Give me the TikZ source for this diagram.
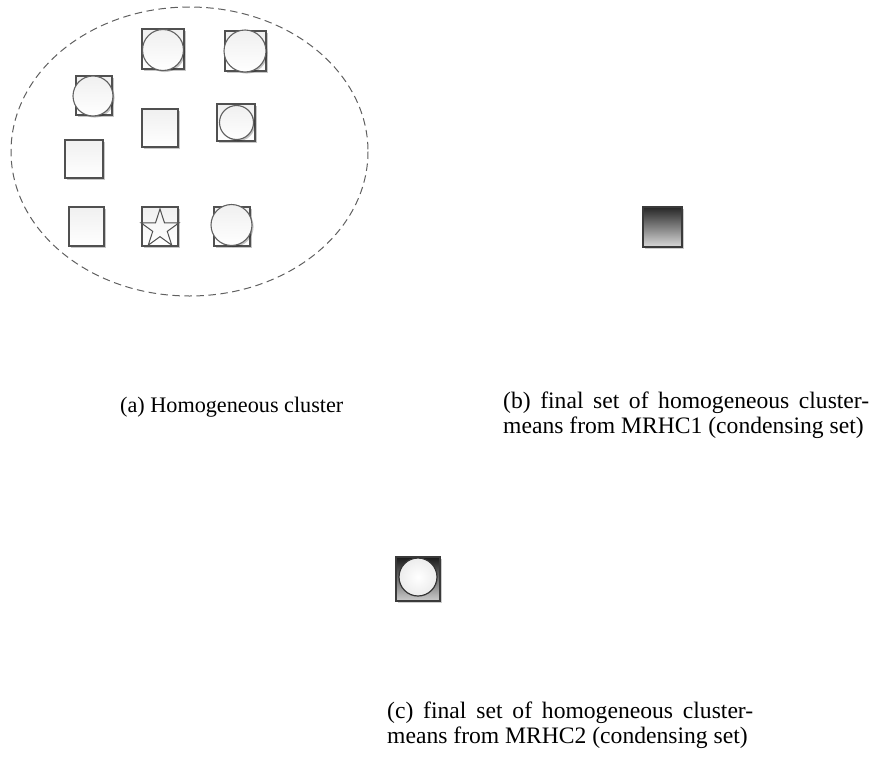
\documentclass[tikz,border=0pt]{standalone}
\usepackage{fontspec}
\setmainfont{Liberation Serif}
\usetikzlibrary{shadows}
\definecolor{edge}{HTML}{505050}
\definecolor{darkedge}{HTML}{3A3A3A}
\begin{document}
\begin{tikzpicture}[x=1pt,y=-1pt,
  lightfill/.style={top color=gray!12, bottom color=white, draw=edge, line width=1.1pt,
    inner sep=0pt, outer sep=0pt},
  softshadow/.style={drop shadow={shadow xshift=1.6pt, shadow yshift=-1.6pt, opacity=0.22, fill=black}},
  sqbox/.style={lightfill, softshadow, rectangle},
  rdot/.style={lightfill, softshadow, circle, draw=edge!90},
  starline/.style={draw=edge, line width=1pt, top color=gray!10, bottom color=white, line join=miter},
  captext/.style={font=\fontsize{23.6}{26}\selectfont, inner sep=0pt, anchor=west},
  boundary/.style={draw=gray!75!black, dash pattern=on 7.5pt off 4.5pt, line width=1pt}
]
\useasboundingbox (0,0) rectangle (885,782);

% dashed outline of the cluster
\draw[boundary] (189.5,151.5) ellipse [x radius=178.5, y radius=144.5];

% samples of the homogeneous cluster
\node[sqbox, minimum width=42, minimum height=40] (s1) at (163,49) {};
\node[rdot, minimum size=41] (c1) at (163,50) {};
\node[sqbox, minimum width=41, minimum height=40] (s2) at (245.5,51) {};
\node[rdot, minimum size=42] (c2) at (245,51) {};
\node[sqbox, minimum width=36, minimum height=39] (s3) at (94,95.5) {};
\node[rdot, minimum size=40] (c3) at (93,96) {};
\node[sqbox, minimum width=36, minimum height=38] (s4) at (160,128) {};
\node[sqbox, minimum width=38, minimum height=37] (s5) at (236,122.5) {};
\node[rdot, minimum size=34] (c5) at (236.5,122.5) {};
\node[sqbox, minimum width=38, minimum height=38] (s6) at (84,159) {};
\node[sqbox, minimum width=35, minimum height=39] (s7) at (86.5,226.5) {};
\node[sqbox, minimum width=36, minimum height=39] (s8) at (160,226.5) {};
% five-pointed star inside the square s8
\begin{scope}[shift={(160,229)}]
  \draw[starline] (-90:20) -- (-54:7.64) -- (-18:20) -- (18:7.64) -- (54:20)
    -- (90:7.64) -- (126:20) -- (162:7.64) -- (198:20) -- (234:7.64) -- cycle;
\end{scope}
\node[sqbox, minimum width=36, minimum height=39] (s9) at (232,226.5) {};
\node[rdot, minimum size=41] (c9) at (231.5,225) {};

% condensing set from MRHC1
\node[rectangle, minimum width=39, minimum height=40, inner sep=0pt,
      top color=black!85, bottom color=gray!30, draw=darkedge, line width=1.8pt,
      drop shadow={shadow xshift=2pt, shadow yshift=-2pt, opacity=0.2, fill=black}]
      (m1) at (662.5,227) {};

% condensing set from MRHC2
\node[rectangle, minimum width=44, minimum height=44, inner sep=0pt,
      top color=black!90, bottom color=gray!40, draw=darkedge, line width=1.8pt,
      drop shadow={shadow xshift=2pt, shadow yshift=-2pt, opacity=0.2, fill=black}]
      (m2) at (418,579) {};
\node[circle, minimum size=38, inner sep=0pt, inner color=white, outer color=gray!15,
      draw=black!80, line width=1.2pt] (m2c) at (418,577) {};

% captions
\node[captext, font=\fontsize{22.2}{25}\selectfont] (ta) at (120,407) {(a) Homogeneous cluster};
\node[captext] (tb1) at (503,403) {\makebox[366pt][s]{(b) final set of homogeneous cluster-}};
\node[captext] (tb2) at (503,428) {means from MRHC1 (condensing set)};
\node[captext] (tc1) at (387,713) {\makebox[366pt][s]{(c) final set of homogeneous cluster-}};
\node[captext] (tc2) at (387,738) {means from MRHC2 (condensing set)};
\end{tikzpicture}
\end{document}
